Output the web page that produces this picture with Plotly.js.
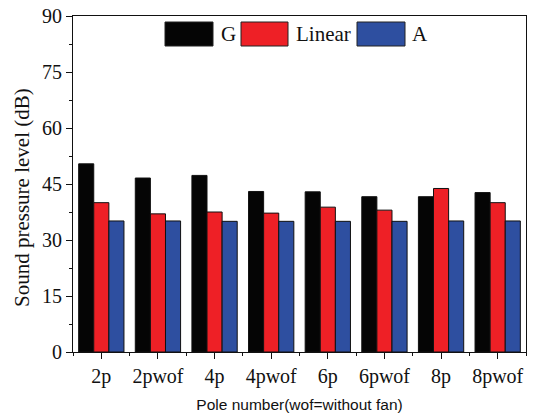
<!DOCTYPE html>
<html><head><meta charset="utf-8">
<script src="https://cdn.plot.ly/plotly-3.0.1.min.js"></script>
<style>body{margin:0;padding:0;background:#fff}#chart{width:536px;height:413px}</style>
</head><body><div id="chart"></div>
<script>
const categories = ["2p","2pwof","4p","4pwof","6p","6pwof","8p","8pwof"];
const seriesNames = ["G","Linear","A"];
const gValues = [50.4, 46.6, 47.3, 43.0, 42.9, 41.6, 41.6, 42.7];
const linearValues = [40.0, 37.0, 37.5, 37.2, 38.8, 38.0, 43.8, 40.0];
const aValues = [35.1, 35.1, 35.0, 35.0, 35.0, 35.0, 35.1, 35.1];
const yTicks = [0, 15, 30, 45, 60, 75, 90];
const colors = ["#050505", "#ee2026", "#2e4fa0"];

const idx = categories.map((_, i) => i);
const allValues = [gValues, linearValues, aValues];
const traces = allValues.map((vals, k) => ({
  type: "bar", x: idx, y: vals, name: seriesNames[k],
  marker: {color: colors[k], line: {color: "#111", width: 1}},
  hoverinfo: "x+y"
}));

const serif = "Liberation Serif, Times New Roman, serif";
const legendItems = [
  {x0: 165, x1: 213, tx: 219},
  {x0: 241, x1: 288, tx: 294},
  {x0: 357, x1: 405, tx: 410}
];
const L = 73, R = 10, T = 16, B = 61, W = 536, H = 413;
const pw = W - L - R, ph = H - T - B;
const px = v => (v - L) / pw;
const py = v => 1 - (v - T) / ph;
const shapes = legendItems.map((it, k) => ({
  type: "rect", xref: "paper", yref: "paper",
  x0: px(it.x0), x1: px(it.x1), y0: py(46), y1: py(22),
  fillcolor: colors[k], line: {color: "#222", width: 1}
}));
const annotations = legendItems.map((it, k) => ({
  xref: "paper", yref: "paper", x: px(it.tx), y: py(34),
  xanchor: "left", yanchor: "middle", showarrow: false,
  text: seriesNames[k], font: {family: serif, size: 21, color: "#111"}
}));
annotations.push({
  xref: "paper", yref: "paper", x: px(22), y: py(198),
  xanchor: "center", yanchor: "middle", showarrow: false, textangle: -90,
  text: "Sound pressure level (dB)", font: {family: serif, size: 21, color: "#111"}
});

const layout = {
  width: W, height: H,
  margin: {l: L, r: R, t: T, b: B},
  paper_bgcolor: "#fff", plot_bgcolor: "#fff",
  showlegend: false,
  barmode: "group", bargap: 0.2, bargroupgap: 0,
  xaxis: {
    range: [-0.5, 7.5], tickvals: idx, ticktext: categories,
    ticks: "outside", ticklen: 6, tickwidth: 1, tickcolor: "#111",
    showline: true, linecolor: "#111", linewidth: 1, mirror: true,
    showgrid: false, zeroline: false,
    tickfont: {family: serif, size: 20, color: "#111"},
    minor: {tick0: 0.5, dtick: 1, ticks: "outside", ticklen: 3, tickcolor: "#111", showgrid: false},
    title: {text: "Pole number(wof=without fan)", font: {family: "Liberation Sans, Arial, sans-serif", size: 15.5, color: "#111"}, standoff: 12}
  },
  yaxis: {
    range: [0, 90], tickvals: yTicks,
    ticks: "outside", ticklen: 6, tickwidth: 1, tickcolor: "#111",
    showline: true, linecolor: "#111", linewidth: 1, mirror: true,
    showgrid: false, zeroline: false,
    tickfont: {family: serif, size: 20, color: "#111"},
    minor: {tick0: 7.5, dtick: 15, ticks: "outside", ticklen: 3, tickcolor: "#111", showgrid: false}
  },
  shapes: shapes, annotations: annotations
};
Plotly.newPlot("chart", traces, layout, {displayModeBar: false, staticPlot: true});
</script></body></html>
